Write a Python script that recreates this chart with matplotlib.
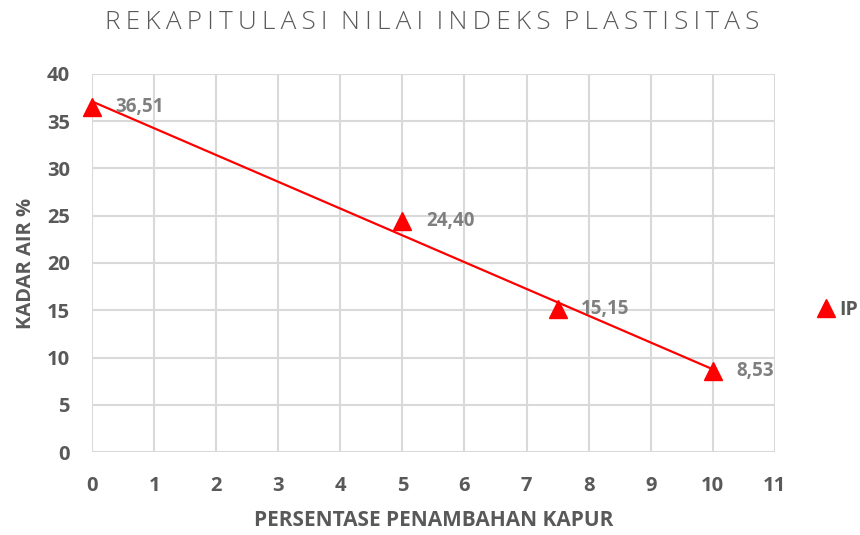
import numpy as np
import matplotlib.pyplot as plt

# data
kapur = [0, 5, 7.5, 10]
ip = [36.51, 24.40, 15.15, 8.53]
labels = ["36,51", "24,40", "15,15", "8,53"]
xticks = list(range(0, 12))
yticks = list(range(0, 45, 5))

plt.rcParams["font.family"] = ["Open Sans", "DejaVu Sans"]

fig = plt.figure(figsize=(8.6, 5.35), dpi=100)
ax = fig.add_axes([0.107, 0.155, 0.794, 0.707])

grid_c = "#d9d9d9"
text_c = "#595959"

ax.set_xlim(0, 11)
ax.set_ylim(0, 40)
ax.set_xticks(xticks)
ax.set_yticks(yticks)
ax.grid(True, color=grid_c, linewidth=1.5)
ax.set_axisbelow(True)
for s in ax.spines.values():
    s.set_visible(False)
ax.tick_params(axis="y", length=0, pad=16, labelsize=14.5, labelcolor=text_c)
ax.tick_params(axis="x", length=0, pad=17, labelsize=14.5, labelcolor=text_c)
for t in ax.get_xticklabels() + ax.get_yticklabels():
    t.set_fontweight("bold")

# trendline
k, b = np.polyfit(kapur, ip, 1)
xx = np.array([0, 10])
ax.plot(xx, k * xx + b, color="#ff0000", linewidth=1.6, zorder=3)

ax.plot(kapur, ip, linestyle="none", marker="^", markersize=13,
        color="#ff0000", label="IP", zorder=4, clip_on=False)

for x, y, lab in zip(kapur, ip, labels):
    ax.annotate(lab, (x, y), xytext=(17, 0), textcoords="offset points",
                ha="left", va="center", fontsize=13.5, fontweight="bold",
                color="#7f7f7f", zorder=5)

ax.set_xlabel("PERSENTASE PENAMBAHAN KAPUR", fontsize=15, fontweight="bold",
              color=text_c, labelpad=10)
ax.set_ylabel("KADAR AIR %", fontsize=14.5, fontweight="bold", color=text_c,
              labelpad=8)

title = "  ".join("\u2009".join(w) for w in "REKAPITULASI NILAI INDEKS PLASTISITAS".split())
fig.text(0.503, 0.958, title, ha="center", va="center", fontsize=18.8,
         color=text_c, fontweight="light")

leg = ax.legend(loc="center left", bbox_to_anchor=(1.032, 0.375), frameon=False,
                handletextpad=0.1, handlelength=1.2, fontsize=14)
for t in leg.get_texts():
    t.set_fontweight("bold")
    t.set_color(text_c)

fig.savefig("out.png", dpi=100)
